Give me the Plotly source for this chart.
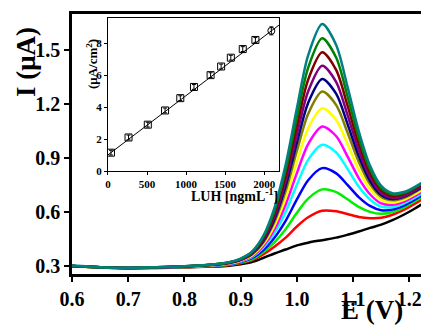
import plotly.graph_objects as go

# ---------------- main DPV data ----------------
E = [0.60, 0.65, 0.70, 0.75, 0.80, 0.85, 0.88, 0.90, 0.92, 0.94, 0.96, 0.98,
     1.00, 1.02, 1.045, 1.07, 1.09, 1.11, 1.13, 1.15, 1.17, 1.19, 1.21, 1.235]

black = [0.300, 0.292, 0.288, 0.290, 0.293, 0.297, 0.302, 0.310, 0.322, 0.345, 0.370, 0.392,
         0.415, 0.430, 0.444, 0.458, 0.474, 0.492, 0.512, 0.530, 0.555, 0.585, 0.620, 0.668]
red = [0.300, 0.292, 0.289, 0.291, 0.294, 0.300, 0.306, 0.316, 0.332, 0.364, 0.407, 0.458,
       0.520, 0.571, 0.607, 0.604, 0.589, 0.573, 0.566, 0.568, 0.585, 0.612, 0.647, 0.695]
green = [0.300, 0.292, 0.289, 0.291, 0.295, 0.301, 0.308, 0.320, 0.338, 0.377, 0.432, 0.505,
         0.596, 0.675, 0.726, 0.711, 0.671, 0.629, 0.601, 0.590, 0.600, 0.625, 0.660, 0.708]
blue = [0.300, 0.293, 0.289, 0.292, 0.296, 0.302, 0.310, 0.323, 0.344, 0.388, 0.457, 0.551,
        0.670, 0.777, 0.844, 0.815, 0.751, 0.683, 0.634, 0.610, 0.614, 0.636, 0.670, 0.718]
cyan = [0.300, 0.293, 0.289, 0.292, 0.296, 0.303, 0.312, 0.325, 0.349, 0.401, 0.483, 0.601,
        0.752, 0.890, 0.974, 0.931, 0.840, 0.742, 0.670, 0.630, 0.627, 0.647, 0.680, 0.728]
magenta = [0.300, 0.293, 0.289, 0.292, 0.297, 0.304, 0.313, 0.328, 0.354, 0.411, 0.504, 0.641,
           0.816, 0.977, 1.075, 1.021, 0.909, 0.789, 0.699, 0.648, 0.640, 0.657, 0.690, 0.738]
yellow = [0.300, 0.293, 0.290, 0.292, 0.297, 0.305, 0.315, 0.331, 0.359, 0.421, 0.525, 0.680,
          0.880, 1.065, 1.176, 1.111, 0.978, 0.836, 0.728, 0.667, 0.652, 0.668, 0.700, 0.748]
olive = [0.300, 0.293, 0.290, 0.293, 0.298, 0.306, 0.317, 0.333, 0.364, 0.430, 0.545, 0.717,
         0.939, 1.145, 1.269, 1.194, 1.042, 0.879, 0.755, 0.684, 0.665, 0.678, 0.710, 0.758]
navy = [0.300, 0.293, 0.290, 0.293, 0.298, 0.307, 0.318, 0.335, 0.367, 0.437, 0.559, 0.744,
        0.984, 1.206, 1.339, 1.256, 1.090, 0.911, 0.774, 0.695, 0.672, 0.684, 0.715, 0.763]
purple = [0.300, 0.293, 0.290, 0.293, 0.298, 0.307, 0.318, 0.336, 0.370, 0.444, 0.574, 0.772,
          1.030, 1.270, 1.413, 1.322, 1.140, 0.944, 0.794, 0.706, 0.679, 0.689, 0.720, 0.769]
maroon = [0.300, 0.293, 0.290, 0.293, 0.299, 0.308, 0.320, 0.339, 0.374, 0.452, 0.590, 0.802,
          1.078, 1.335, 1.488, 1.388, 1.192, 0.980, 0.817, 0.721, 0.690, 0.700, 0.730, 0.779]
dgreen = [0.301, 0.293, 0.290, 0.293, 0.299, 0.309, 0.321, 0.340, 0.377, 0.459, 0.606, 0.832,
          1.127, 1.401, 1.565, 1.457, 1.244, 1.015, 0.838, 0.733, 0.698, 0.705, 0.735, 0.784]
teal = [0.303, 0.294, 0.291, 0.294, 0.299, 0.309, 0.322, 0.342, 0.380, 0.466, 0.622, 0.862,
        1.176, 1.470, 1.644, 1.527, 1.297, 1.050, 0.858, 0.745, 0.705, 0.711, 0.740, 0.789]

series = [black, red, green, blue, cyan, magenta, yellow, olive, navy, purple, maroon, dgreen, teal]
colors = ["#000000", "#ff0000", "#00ee00", "#0000ff", "#00ffff", "#ff00ff", "#ffff00",
          "#808000", "#000080", "#800080", "#800000", "#008000", "#008080"]

main_xticks = [0.6, 0.7, 0.8, 0.9, 1.0, 1.1, 1.2]
main_yticks = [0.3, 0.6, 0.9, 1.2, 1.5]

# ---------------- inset calibration data ----------------
conc = [38, 263, 510, 731, 926, 1101, 1314, 1449, 1573, 1726, 1888, 2092]
current = [1.15, 2.10, 2.90, 3.79, 4.56, 5.26, 6.00, 6.54, 7.09, 7.63, 8.20, 8.77]
err = [0.15, 0.15, 0.15, 0.15, 0.15, 0.15, 0.15, 0.15, 0.15, 0.15, 0.15, 0.25]
fit_x = [0, 2190]
fit_y = [1.01, 9.13]
inset_xticks = [0, 500, 1000, 1500, 2000]
inset_yticks = [0, 2, 4, 6, 8]

FONT = "Liberation Serif, Times New Roman, serif"

fig = go.Figure()
for s, c in zip(series, colors):
    fig.add_trace(go.Scatter(x=E, y=s, mode="lines", line=dict(color=c, width=2.5, shape="spline", smoothing=0.8),
                             xaxis="x", yaxis="y", showlegend=False, hoverinfo="skip"))

fig.add_trace(go.Scatter(x=fit_x, y=fit_y, mode="lines", line=dict(color="black", width=1),
                         xaxis="x2", yaxis="y2", showlegend=False))
symbols = ["square-open"] * (len(conc) - 1) + ["circle-open"]
fig.add_trace(go.Scatter(x=conc, y=current, mode="markers",
                         marker=dict(symbol=symbols, size=7, color="black", line=dict(width=1, color="black")),
                         error_y=dict(type="data", array=err, visible=True, color="black", thickness=1, width=2),
                         xaxis="x2", yaxis="y2", showlegend=False))

# page body has an 8px margin, so the figure is 8px smaller and shifted
fig.update_layout(
    width=421, height=318,
    margin=dict(l=64, r=0, t=6, b=52, autoexpand=False),
    paper_bgcolor="white", plot_bgcolor="white",
    font=dict(family=FONT, color="black"),
    xaxis=dict(range=[0.6, 1.235], domain=[0, 1], tickvals=main_xticks, tickformat=".1f",
               showline=True, linecolor="black", linewidth=2.5, mirror=True, automargin=False,
               ticks="outside", ticklen=5, tickwidth=1.5, tickcolor="black",
               showgrid=False, zeroline=False,
               tickfont=dict(family=FONT, size=20, weight="bold")),
    yaxis=dict(range=[0.256, 1.7], domain=[0, 1], tickvals=main_yticks, tickformat=".1f",
               showline=True, linecolor="black", linewidth=2.5, mirror=False, automargin=False,
               ticks="outside", ticklen=5, tickwidth=1.5, tickcolor="black",
               showgrid=False, zeroline=False,
               tickfont=dict(family=FONT, size=20, weight="bold")),
    xaxis2=dict(range=[0, 2190], domain=[0.1008, 0.5798], anchor="y2", tickvals=inset_xticks,
                showline=True, linecolor="black", linewidth=1.2, mirror=True, automargin=False,
                ticks="outside", ticklen=3, tickcolor="black", showgrid=False, zeroline=False,
                tickfont=dict(family=FONT, size=11, weight="bold")),
    yaxis2=dict(range=[0, 9.58], domain=[0.396, 0.985], anchor="x2", tickvals=inset_yticks,
                showline=True, linecolor="black", linewidth=1.2, mirror=True, automargin=False,
                ticks="outside", ticklen=3, tickcolor="black", showgrid=False, zeroline=False,
                tickfont=dict(family=FONT, size=11, weight="bold")),
    annotations=[
        dict(text="I (μA)", xref="paper", yref="paper", x=(26 - 72) / 357, y=(274 - 62) / 260,
             showarrow=False, textangle=-90, font=dict(family=FONT, size=27, weight="bold"),
             xanchor="center", yanchor="middle"),
        dict(text="E (V)", xref="paper", yref="paper", x=(372 - 72) / 357, y=(274 - 310) / 260,
             showarrow=False, font=dict(family=FONT, size=27, weight="bold"),
             xanchor="center", yanchor="middle"),
        dict(text="(μA/cm<sup>2</sup>)", xref="paper", yref="paper", x=(92 - 72) / 357, y=(274 - 64) / 260,
             showarrow=False, textangle=-90, font=dict(family=FONT, size=13, weight="bold"),
             xanchor="center", yanchor="middle"),
        dict(text="LUH [ngmL<sup>-1</sup>]", xref="paper", yref="paper", x=(234 - 72) / 357, y=(274 - 195) / 260,
             showarrow=False, font=dict(family=FONT, size=14, weight="bold"),
             xanchor="center", yanchor="middle"),
    ],
)

fig.write_html("out.html")
